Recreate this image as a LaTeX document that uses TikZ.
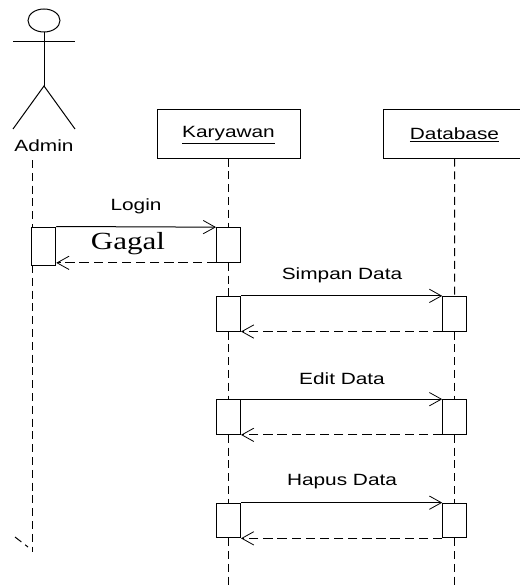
\documentclass[tikz,border=0pt]{standalone}
\usepackage{fontspec}
\usetikzlibrary{arrows.meta}
\newfontfamily\labelfont[FakeStretch=1.28]{Liberation Sans}
\newfontfamily\seriffont[FakeStretch=1.26]{Liberation Serif}
\tikzset{every picture/.style={line width=0.75pt}}
\tikzset{
  objbox/.style={draw,minimum width=107.25pt,minimum height=36pt,inner sep=0pt},
  actbox/.style={draw,fill=white,minimum width=18pt,minimum height=26pt,inner sep=0pt},
  lbl/.style={inner sep=0pt,font=\labelfont\fontsize{12.2}{14}\selectfont},
  lifeline/.style={dash pattern=on 6pt off 3.6pt},
  msg/.style={-{Straight Barb[length=9pt,width=10pt,line width=0.6pt]}},
  reply/.style={msg,dash pattern=on 7pt off 3.6pt}
}

\begin{document}
\begin{tikzpicture}[x=0.75pt,y=0.75pt,yscale=-1,xscale=1]
\useasboundingbox (0,0) rectangle (519,588);

%Actor
\draw (44,20.5) ellipse (16 and 11.5);
\draw (13,42) -- (75,42);
\draw (44,32) -- (44,86);
\draw (13,129) -- (44,86) -- (75,129);
\node (admin) [lbl] at (44,146) {Admin};

%Objects
\node (karyawan) [objbox] at (228.5,134) {};
\node (database) [objbox] at (454.5,134) {};
\node (karyawantext) [lbl] at (228.5,135) {\underline{Karyawan}};
\node (databasetext) [lbl] at (454.5,135) {\underline{Database}};

%Activations
\node (a1) [actbox,minimum height=28.5pt] at (43.75,246) {};
\node (k1) [actbox] at (228.5,245) {};
\node (k2) [actbox] at (228.5,313.7) {};
\node (d2) [actbox] at (454.7,313.7) {};
\node (k3) [actbox] at (228.5,417) {};
\node (d3) [actbox] at (454.7,417) {};
\node (k4) [actbox] at (228.5,520.5) {};
\node (d4) [actbox] at (454.7,520.5) {};

%Free ends
\coordinate (adminhead) at (32,160);
\coordinate (admintop) at (32,227);
\coordinate (adminlow) at (32,265);
\coordinate (adminend) at (32,552);
\coordinate (tickA) at (15,537);
\coordinate (tickB) at (28,547);
\coordinate (karyawanend) at (228.5,588);
\coordinate (databaseend) at (454.7,588);

%Lifelines
\draw [lifeline] (adminhead) -- (admintop);
\draw [lifeline] (adminlow) -- (adminend);
\draw [lifeline] (tickA) -- (tickB);
\draw [lifeline] (karyawan.south) -- (k1.north);
\draw [lifeline] (k1.south) -- (k2.north);
\draw [lifeline] (k2.south) -- (k3.north);
\draw [lifeline] (k3.south) -- (k4.north);
\draw [lifeline] (k4.south) -- (karyawanend);
\draw [lifeline] (database.south) -- (d2.north);
\draw [lifeline] (d2.south) -- (d3.north);
\draw [lifeline] (d3.south) -- (d4.north);
\draw [lifeline] (d4.south) -- (databaseend);

%Messages
\draw [msg] (a1.north east) -- (k1.north west);
\draw [reply] (k1.south west) -- (a1.east |- k1.south);
\draw [msg] (k2.north east) -- (d2.north west);
\draw [reply] (d2.south west) -- (k2.south east);
\draw [msg] (k3.north east) -- (d3.north west);
\draw [reply] (d3.south west) -- (k3.south east);
\draw [msg] (k4.north east) -- (d4.north west);
\draw [reply] (d4.south west) -- (k4.south east);

% Text Node
\node (login) [lbl] at (136,206) {Login};
\node (gagal) [inner sep=0pt,font=\seriffont\fontsize{18.5}{20}\selectfont] at (128,244) {Gagal};
\node (simpan) [lbl] at (342,275) {Simpan Data};
\node (edit) [lbl] at (342,378.5) {Edit Data};
\node (hapus) [lbl] at (342,482) {Hapus Data};

\end{tikzpicture}
\end{document}
